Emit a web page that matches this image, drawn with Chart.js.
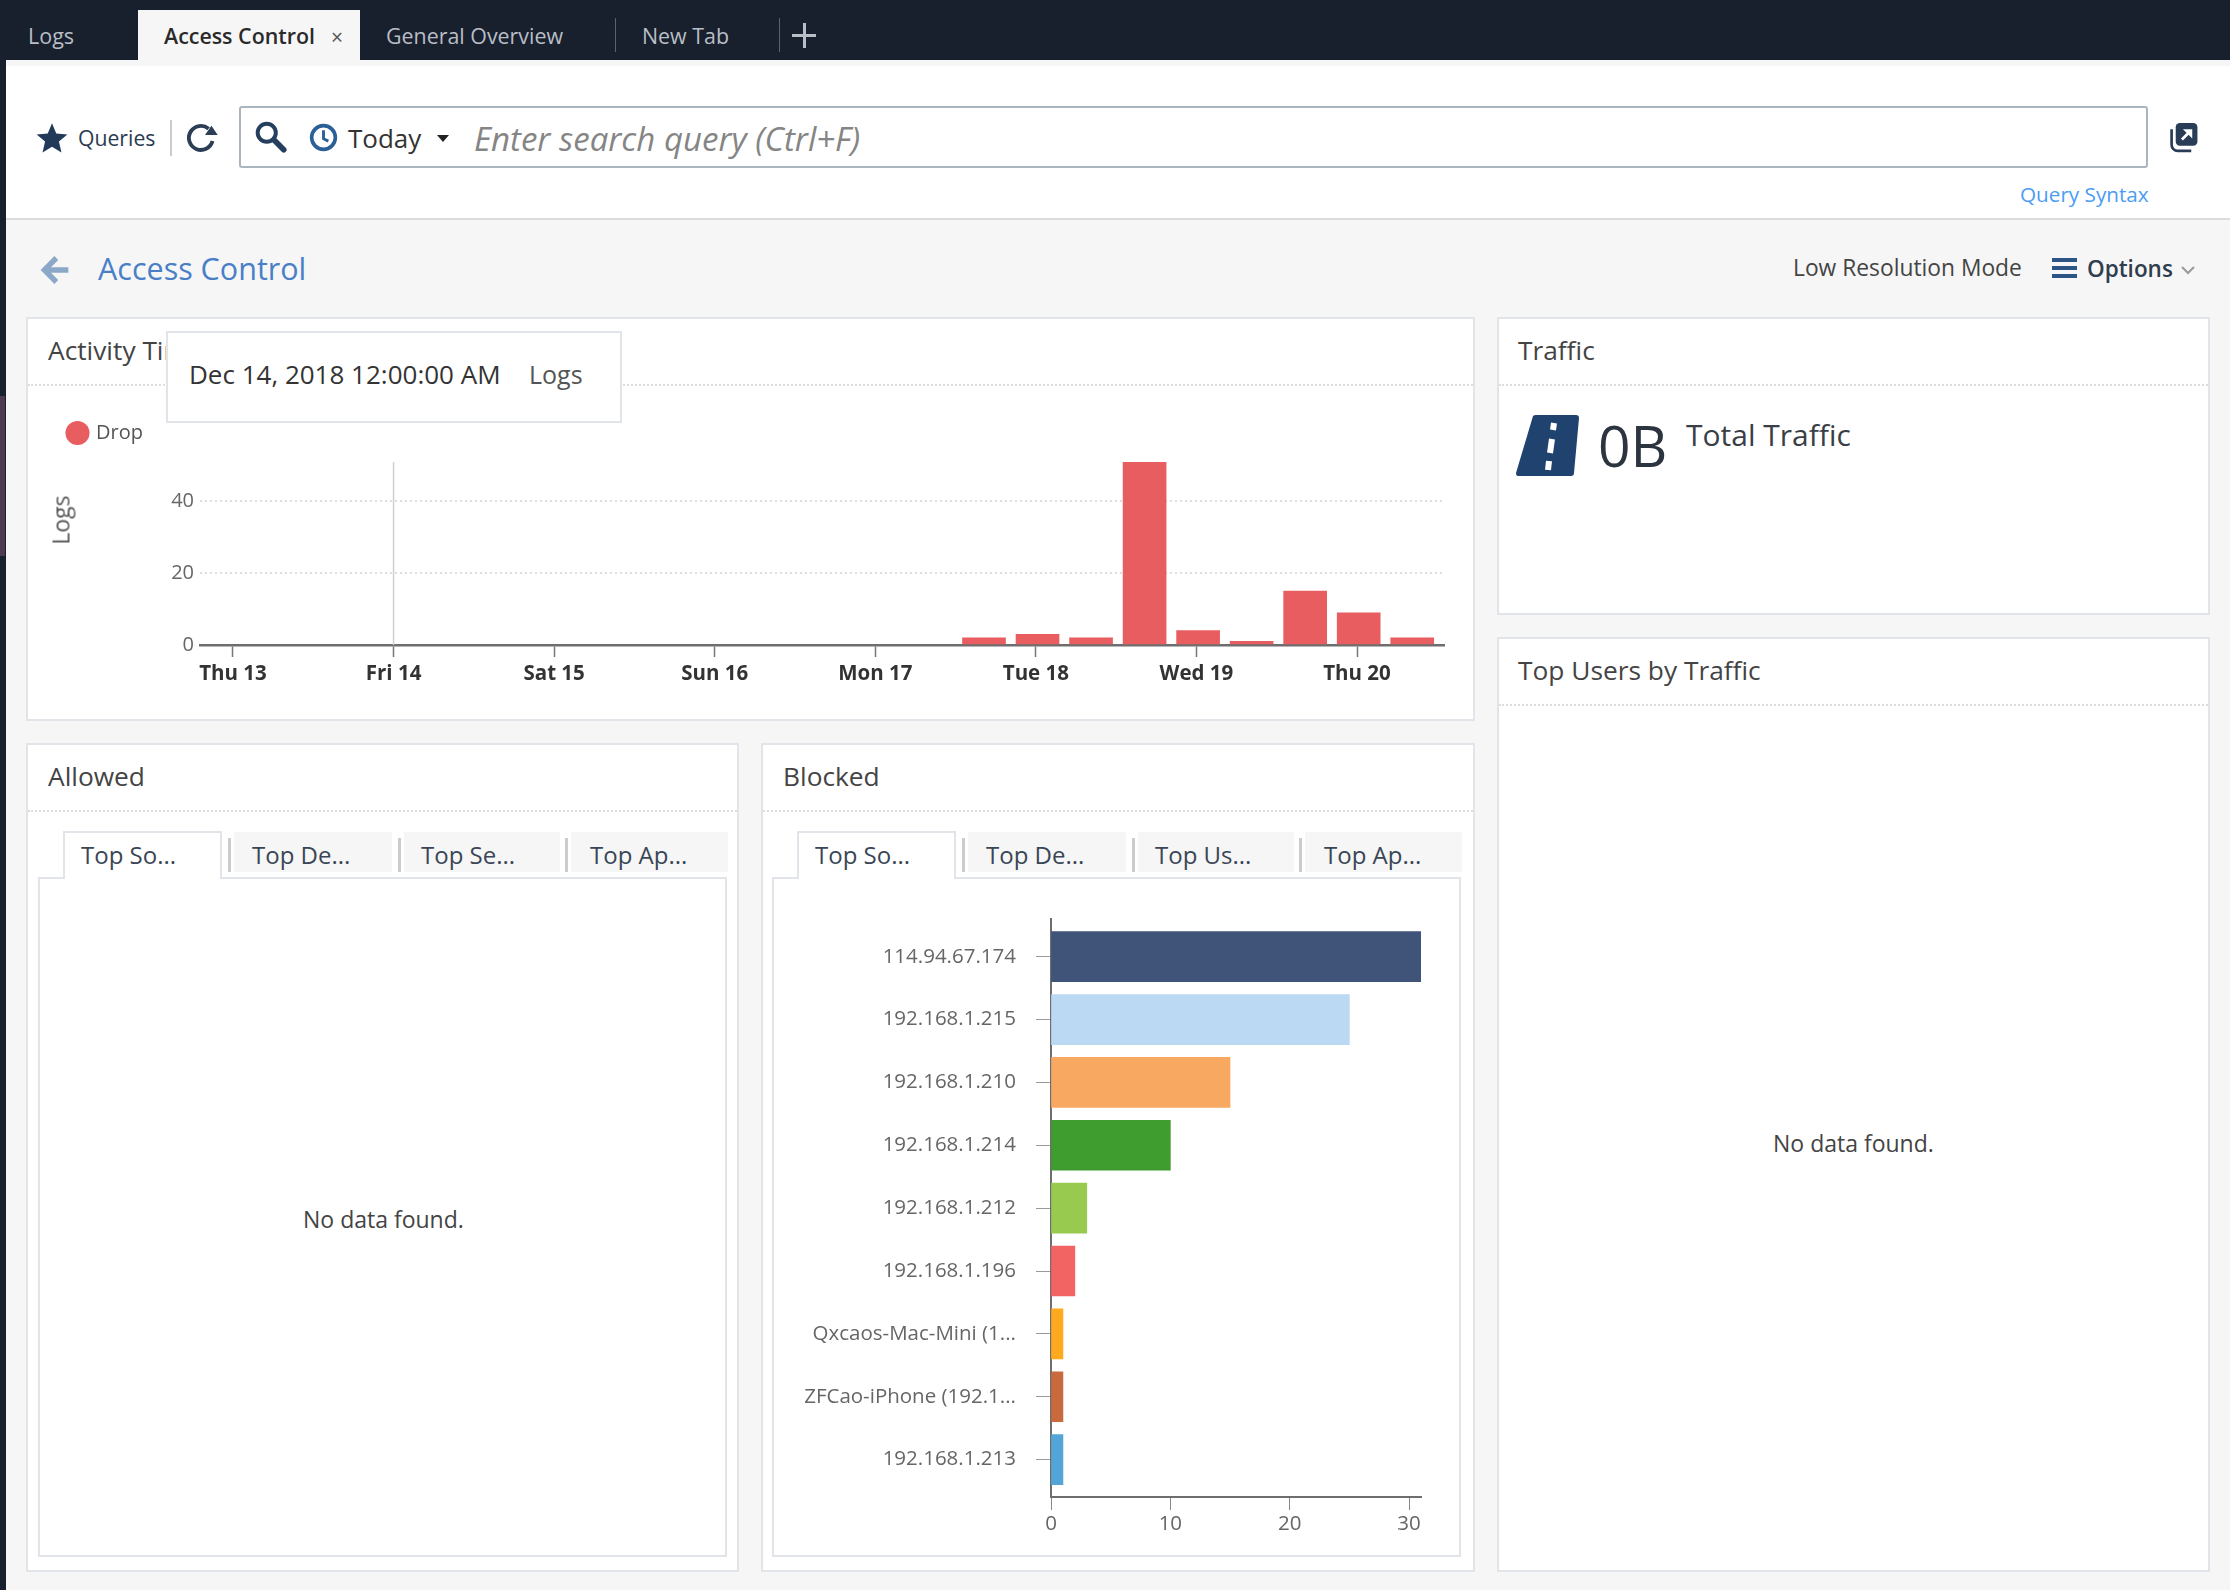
<!DOCTYPE html>
<html><head><meta charset="utf-8">
<script src="https://cdn.jsdelivr.net/npm/chart.js@4"></script>
<style>
html,body{margin:0;padding:0;background:#f6f6f6;width:2230px;height:1590px;overflow:hidden;font-family:'Open Sans',sans-serif;color:#333}
#root{position:relative;width:2230px;height:1590px;overflow:hidden}
.a{position:absolute;box-sizing:border-box}
.t{position:absolute;white-space:nowrap;line-height:1;transform:translateY(-50%)}
.p{position:absolute;box-sizing:border-box;background:#fff;border:2px solid #e1e5e9}
canvas{position:absolute}
svg{position:absolute}
</style></head><body><div id="root">
<canvas id="activity" width="1410" height="296" style="left:50px;top:404px"></canvas>
<canvas id="blocked" width="660" height="663" style="left:780px;top:887px"></canvas>
</div>
<script>
const activityHours=[112.25,120.25,128.25,136.25,144.25,152.25,160.25,168.25,176.25];
const activityCounts=[2,3,2,51,4,1,15,9,2];
const activitySeries='Drop';
const dayHours=[0,24,48,72,96,120,144,168];
const dayLabels=['Thu 13','Fri 14','Sat 15','Sun 16','Mon 17','Tue 18','Wed 19','Thu 20'];
const crosshairHour=24;
const sourceNames=['114.94.67.174','192.168.1.215','192.168.1.210','192.168.1.214','192.168.1.212','192.168.1.196','Qxcaos-Mac-Mini (1...','ZFCao-iPhone (192.1...','192.168.1.213'];
const sourceCounts=[31,25,15,10,3,2,1,1,1];
const sourceColors=['#3f5478','#bbd9f2','#f9a862','#3f9c2f','#97ca4f','#f26363','#ffa91e','#c96a3e','#52a5d6'];

const root=document.getElementById('root');
function box(cls,x,y,w,h,style){const d=document.createElement('div');d.className=cls;d.style.cssText=`left:${x}px;top:${y}px;width:${w}px;height:${h}px;${style||''}`;root.insertBefore(d,document.getElementById('activity'));return d;}
function text(x,y,s,size,style){const d=document.createElement('div');d.className='t';d.textContent=s;d.style.cssText=`left:${x}px;top:${y}px;font-size:${size}px;${style||''}`;root.appendChild(d);return d;}
function svg(x,y,w,h,vb,inner){const n=document.createElement('div');n.innerHTML=`<svg style="left:${x}px;top:${y}px" width="${w}" height="${h}" viewBox="${vb}">${inner}</svg>`;root.appendChild(n.firstChild);}

// chrome
box('a',0,0,2230,60,'background:#18202e');
box('a',0,60,6,1530,'background:#18202e');
box('a',0,396,5,160,'background:#4d3a50');
box('a',6,66,2224,154,'background:#fff;border-bottom:2px solid #dcdcdc');
box('a',138,10,222,56,'background:#f6f6f6');
box('a',615,18,1,34,'background:#5a6270');
box('a',779,18,1,34,'background:#5a6270');
text(28,36,'Logs',21.5,'color:#b9bec6');
text(164,36,'Access Control',21.4,'color:#2a2a2a;font-weight:600');
text(331,37,'×',21,'color:#555');
text(386,36,'General Overview',21.4,'color:#b9bec6');
text(642,36,'New Tab',21.4,'color:#b9bec6');
box('a',792,34,24,3,'background:#b9bec6');
box('a',803,23,3,25,'background:#b9bec6');

// toolbar
svg(36,122,32,32,'0 0 24 24','<path fill="#22395a" d="M12 1l3.2 7.6 8.3.7-6.3 5.4 1.9 8.1L12 18.5 4.9 22.8l1.9-8.1L.5 9.3l8.3-.7z"/>');
text(78,138,'Queries',21.2,'color:#2b3b50');
box('a',170,120,2,36,'background:#c8ccd0');
svg(184,120,36,36,'0 0 24 24','<path fill="none" stroke="#2c3e55" stroke-width="2.6" d="M19 14a8 8 0 1 1-2.6-8.2"/><path fill="#2c3e55" d="M14 10l8.5 0-4.2-6.2z"/>');
box('a',239,106,1909,62,'background:#fff;border:2px solid #aab5c0;border-radius:3px');
svg(254,120,34,34,'0 0 24 24','<circle cx="9" cy="9" r="6.4" fill="none" stroke="#25405f" stroke-width="2.8"/><path stroke="#25405f" stroke-width="4" stroke-linecap="round" d="M14 14l7 7"/>');
svg(309,123,29,29,'0 0 24 24','<circle cx="12" cy="12" r="9.8" fill="none" stroke="#2a5f97" stroke-width="3"/><path fill="none" stroke="#2a5f97" stroke-width="2.4" d="M12 6v7l4 2"/>');
text(348,138,'Today',26,'color:#333');
svg(437,135,12,7,'0 0 12 7','<path fill="#222" d="M0 0h12L6 7z"/>');
text(474,138,'Enter search query (Ctrl+F)',33,'color:#858585;font-style:italic');
svg(2169,122,30,31,'0 0 28 30','<rect x="6" y="1" width="21" height="22" rx="4" fill="#2a3d57"/><path fill="none" stroke="#2a3d57" stroke-width="2.6" d="M2 7v15a6 6 0 0 0 6 6h13"/><path stroke="#fff" stroke-width="2.6" d="M12 17l8-8"/><path fill="#fff" d="M13 7h9v9z"/>');
text(2020,194,'Query Syntax',20.7,'color:#4a9cf5');

// page title
svg(39,254,32,32,'0 0 24 24','<path fill="none" stroke="#8ca8c8" stroke-width="4" d="M22 12H5M13 3l-9 9 9 9"/>');
text(98,268,'Access Control',30.5,'color:#4a7fc8');
text(1793,268,'Low Resolution Mode',22.8,'color:#444');
box('a',2052,258,25,4,'background:#2a5585');
box('a',2052,266,25,4,'background:#2a5585');
box('a',2052,274,25,4,'background:#2a5585');
text(2087,269,'Options',22.5,'color:#2f3d4e;font-weight:600');
svg(2181,265,14,10,'0 0 14 10','<path fill="none" stroke="#999" stroke-width="2" d="M1 2l6 6 6-6"/>');

// panels
function panel(x,y,w,h,title,tx){box('p',x,y,w,h);box('a',x+2,y+67,w-4,2,'border-top:2px dotted #ddd');text(tx,y+33,title,26.3,'color:#444');}
panel(26,317,1449,404,'Activity Timeline',48);
panel(1497,317,713,298,'Traffic',1518);
panel(1497,637,713,935,'Top Users by Traffic',1518);
panel(26,743,713,829,'Allowed',48);
panel(761,743,714,829,'Blocked',783);

// tooltip
box('p',166,331,456,92,'z-index:5');
text(189,374,'Dec 14, 2018 12:00:00 AM',26,'color:#333;font-weight:500;z-index:6');
text(529,374,'Logs',25,'color:#555;z-index:6');

// traffic
svg(1516,415,63,61,'0 0 63 61','<path fill="#20426f" d="M17 1q1-1 3-1h40q3 0 3 3l-5 55q0 3-3 3H2q-2 0-2-3z"/><path stroke="#fff" stroke-width="6" d="M38 8l-1 7M36 24l-2 14M33 46l-1 9"/>');
text(1598,445,'0B',57,'color:#2c3440;font-weight:400');
text(1686,435,'Total Traffic',30,'color:#3a3f47');
text(1773,1143,'No data found.',23,'color:#444');
text(303,1219,'No data found.',23,'color:#444');

// tabs
function tabs(dx,names){
  const active=[63,222], others=[[234,392,228],[404,560,398],[571,728,565]];
  box('a',38+dx,877,689,680,'background:#fff;border:2px solid #e1e5e9');
  box('a',active[0]+dx,831,active[1]-active[0],48,'background:#fff;border:2px solid #e1e5e9;border-bottom:none');
  others.forEach(o=>{box('a',o[0]+dx,832,o[1]-o[0],40,'background:#f6f6f6');box('a',o[2]+dx,838,3,34,'background:#ccc');});
  text(81+dx,855,names[0],24,'color:#3a4656');
  text(252+dx,855,names[1],24,'color:#3a4656');
  text(421+dx,855,names[2],24,'color:#3a4656');
  text(590+dx,855,names[3],24,'color:#3a4656');
}
tabs(0,['Top So...','Top De...','Top Se...','Top Ap...']);
tabs(734,['Top So...','Top De...','Top Us...','Top Ap...']);
[document.getElementById('activity'),document.getElementById('blocked')].forEach(c=>root.appendChild(c));

// y title
const yt=text(61,520,'Logs',23,'color:#555;z-index:3');
yt.style.transform='translate(-50%,-50%) rotate(-90deg)';

Chart.defaults.font.family="'Open Sans',sans-serif";
const crosshair={id:'crosshair',afterDatasetsDraw(c){const x=c.scales.x.getPixelForValue(crosshairHour),a=c.chartArea,g=c.ctx;g.save();g.strokeStyle='#cfcfcf';g.lineWidth=1.5;g.beginPath();g.moveTo(x,a.top);g.lineTo(x,a.bottom);g.stroke();g.restore();}};
const legendGap={id:'legendGap',beforeInit(c){const f=c.legend.fit;c.legend.fit=function(){f.call(this);this.height+=9;};}};

new Chart(document.getElementById('activity'),{
  type:'bar',
  data:{datasets:[{label:activitySeries,data:activityHours.map((h,i)=>({x:h,y:activityCounts[i]})),backgroundColor:'#e85d5f',barThickness:43}]},
  plugins:[crosshair,legendGap],
  options:{
    responsive:false,animation:false,
    layout:{padding:{right:16}},
    plugins:{tooltip:{enabled:false},
      legend:{position:'top',align:'start',labels:{usePointStyle:true,pointStyle:'circle',boxWidth:17,boxHeight:17,padding:19,color:'#555',font:{size:20}}}},
    scales:{
      x:{type:'linear',offset:false,min:-4.93,max:181,
        afterBuildTicks(s){s.ticks=dayHours.map(v=>({value:v}));},
        afterFit(s){s.height=55;},
        ticks:{autoSkip:false,maxRotation:0,padding:5,color:'#333',font:{size:20.5,weight:'700'},
          callback(v){return dayLabels[dayHours.indexOf(v)];}},
        grid:{offset:false,drawOnChartArea:false,tickLength:12,tickWidth:1.5,tickColor:'#777',color:'#777'},
        border:{color:'#6e6e6e',width:2.5}},
      y:{min:0,max:51,
        afterFit(s){s.width=150;},
        ticks:{stepSize:20,includeBounds:false,padding:6,color:'#666',font:{size:20}},
        grid:{drawTicks:false,tickLength:0,lineWidth:2,color:c=>c.tick.value===0?'rgba(0,0,0,0)':'#dedede'},
        border:{display:false,dash:[2,3]}}
    }
  }
});

new Chart(document.getElementById('blocked'),{
  type:'bar',
  data:{datasets:[{label:'Blocked',data:sourceCounts.map((v,i)=>({x:v,y:i})),backgroundColor:sourceColors,barThickness:50}]},
  options:{
    indexAxis:'y',responsive:false,animation:false,
    layout:{padding:{right:19}},
    plugins:{legend:{display:false},tooltip:{enabled:false}},
    scales:{
      y:{type:'linear',reverse:true,offset:false,min:-0.595,max:8.595,
        afterBuildTicks(s){s.ticks=sourceNames.map((_,i)=>({value:i}));},
        afterFit(s){s.width=271;},
        ticks:{autoSkip:false,padding:20,color:'#666',font:{size:20.5},callback(v){return sourceNames[v];}},
        grid:{offset:false,drawOnChartArea:false,tickLength:15,color:'#999'},
        border:{color:'#6e6e6e',width:2}},
      x:{type:'linear',offset:false,min:0,max:31,
        afterFit(s){s.height=53;},
        ticks:{stepSize:10,includeBounds:false,padding:2,color:'#666',font:{size:20.5}},
        grid:{offset:false,drawOnChartArea:false,tickLength:13,color:'#888'},
        border:{color:'#6e6e6e',width:2}}
    }
  }
});
</script></body></html>
